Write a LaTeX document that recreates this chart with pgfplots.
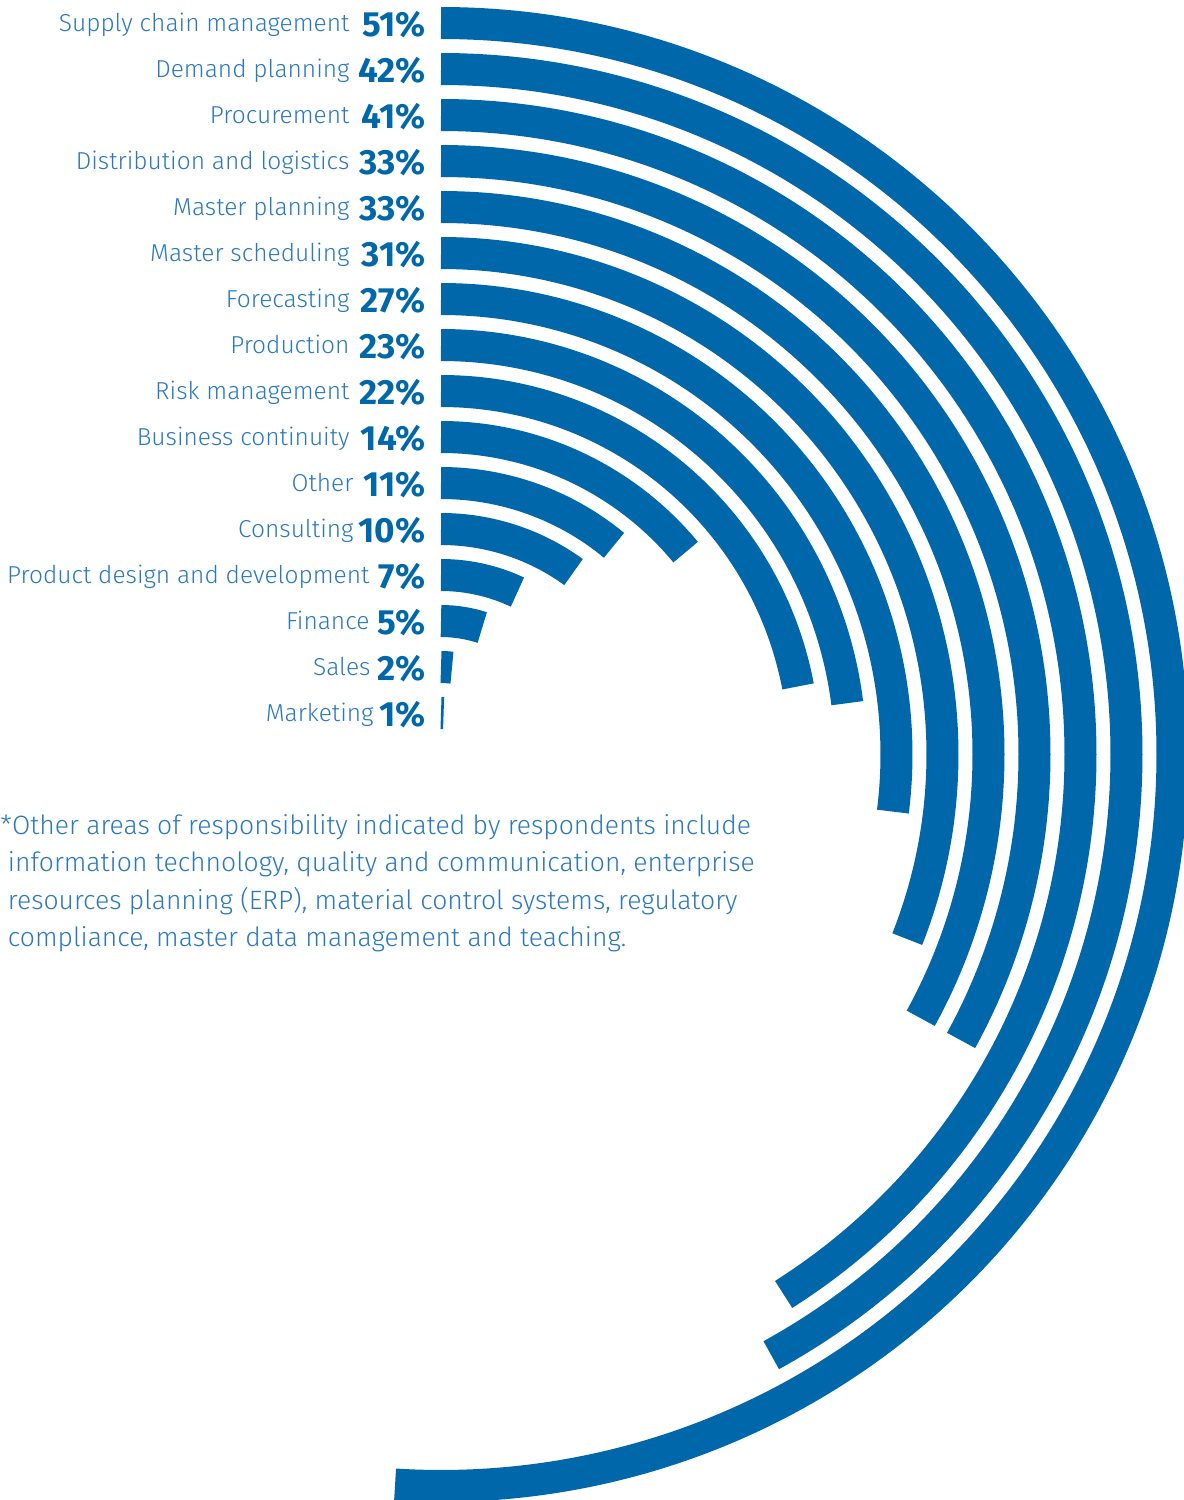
\documentclass[border=0pt]{standalone}
\usepackage{pgfplots}
\pgfplotsset{compat=1.18}
\usepackage{pgfplotstable}
\usepackage{fontspec}
\setmainfont{Fira Sans}
\newfontfamily\lightfont{Fira Sans Light}
\newfontfamily\boldfont{Fira Sans Bold}

\definecolor{barblue}{HTML}{0067AA}
\definecolor{labblue}{HTML}{2A78BE}

\pgfdeclareplotmark{empty}{}

% share of respondents per area of responsibility
% lx = right edge of the label text (px)
\pgfplotstableread[col sep=comma]{
idx,pct,lx,label
0,51,350,Supply chain management
1,42,350,Demand planning
2,41,350,Procurement
3,33,350,Distribution and logistics
4,33,350,Master planning
5,31,350,Master scheduling
6,27,350,Forecasting
7,23,350,Production
8,22,350,Risk management
9,14,350,Business continuity
10,11,354,Other
11,10,354,Consulting
12,7,370,Product design and development
13,5,370,Finance
14,2,371,Sales
15,1,374,Marketing
}\data

\begin{document}
\begin{tikzpicture}
\begin{axis}[
    x=0.4pt, y=0.4pt, y dir=reverse,
    xmin=0, xmax=1184, ymin=0, ymax=1500,
    hide axis, clip=false,
    /pgf/number format/assume math mode=true,
]
% radial bars: one arc per row, 100% = full circle, clockwise from the top
\pgfplotsinvokeforeach{0,...,15}{
\addplot[scatter, only marks, mark=empty,
    point meta=explicit,
    restrict expr to domain={\coordindex}{#1:#1},
    scatter/@pre marker code/.code={%
        \begingroup
        \pgfkeys{/pgf/fpu=true}%
        \pgfmathparse{90-3.6*\pgfplotspointmeta}%
        \pgfmathfloattofixed{\pgfmathresult}\let\endang\pgfmathresult
        \pgfkeys{/pgf/fpu=false}%
        \pgfmathsetmacro\rad{(731.5-46*#1)*0.4}%
        \pgfsetlinewidth{12.8pt}%
        \pgfsetstrokecolor{barblue}%
        \pgfsetbuttcap
        \pgfpathmoveto{\pgfpoint{0pt}{\rad pt}}%
        \pgfpatharc{90}{\endang}{\rad pt}%
        \pgfusepath{stroke}%
        \endgroup
    },
    scatter/@post marker code/.code={},
] table[x expr=441, y expr=754.5, meta=pct] {\data};
}

% values
\addplot[only marks, mark=none,
    point meta=explicit,
    nodes near coords={\pgfmathprintnumber{\pgfplotspointmeta}\%},
    every node near coord/.append style={anchor=base east, inner sep=0pt,
        font=\boldfont\fontsize{14}{16}\selectfont, text=barblue},
] table[x expr=426, y expr={36.5+46*\coordindex}, meta=pct] {\data};

% category names
\addplot[only marks, mark=none,
    point meta=explicit symbolic,
    nodes near coords,
    every node near coord/.append style={anchor=base east, inner sep=0pt,
        font=\lightfont\fontsize{9.8}{11}\selectfont, text=labblue},
] table[x=lx, y expr={31+46*\coordindex}, meta=label] {\data};

\node[anchor=north west, inner sep=0pt, align=left, text=labblue,
      font=\lightfont\fontsize{10.6}{15}\selectfont]
  at (axis cs:0,814) {*Other areas of responsibility indicated by respondents include\\
  \hspace*{3pt}information technology, quality and communication, enterprise\\
  \hspace*{3pt}resources planning (ERP), material control systems, regulatory\\
  \hspace*{3pt}compliance, master data management and teaching.};
\end{axis}
\pgfresetboundingbox
\path[use as bounding box] (current axis.south west) rectangle (current axis.north east);
\end{tikzpicture}
\end{document}
